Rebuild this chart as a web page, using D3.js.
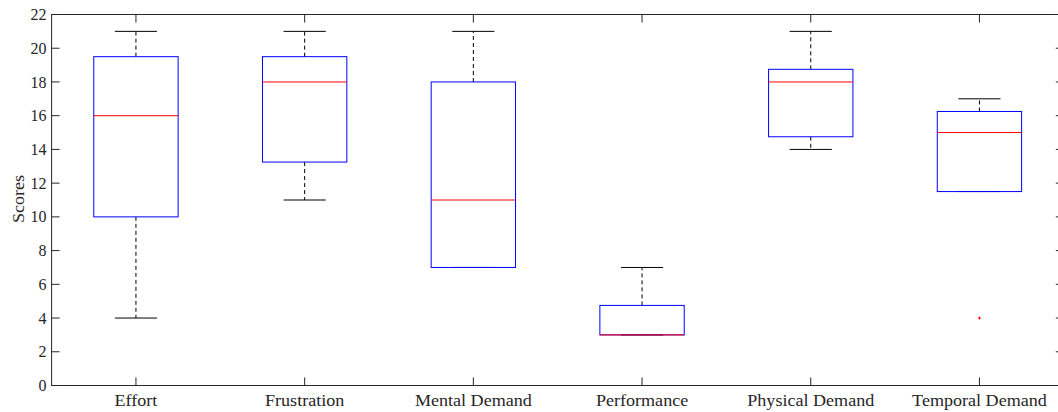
<!DOCTYPE html>
<html><head><meta charset="utf-8">
<script src="https://cdn.jsdelivr.net/npm/d3@7"></script>
<style>body{margin:0;background:#fff}svg{display:block}</style>
</head><body>
<script>
const categories = ["Effort","Frustration","Mental Demand","Performance","Physical Demand","Temporal Demand"];
const whiskerLow = [4, 11, 7, 3, 14, 11.5];
const q1 = [10, 13.25, 7, 3, 14.75, 11.5];
const medians = [16, 18, 11, 3, 18, 15];
const q3 = [19.5, 19.5, 18, 4.75, 18.75, 16.25];
const whiskerHigh = [21, 21, 21, 7, 21, 17];
const outliers = [{cat: 5, value: 4}];
const yTicks = [0,2,4,6,8,10,12,14,16,18,20,22];

const W = 1058, H = 412;
const m = {left: 51.6, top: 14.5, right: 1063.8, bottom: 385.5};
const svg = d3.select("body").append("svg").attr("width", W).attr("height", H);
const x = d3.scaleLinear().domain([0.5, 6.5]).range([m.left, m.right]);
const y = d3.scaleLinear().domain([0, 22]).range([m.bottom, m.top]);
const font = "'Liberation Serif', 'Times New Roman', serif";
const axisCol = "#262626";
const fs = 16, stretch = 1.13;

svg.append("rect").attr("x", m.left).attr("y", m.top).attr("width", m.right - m.left).attr("height", m.bottom - m.top)
  .attr("fill", "none").attr("stroke", axisCol).attr("stroke-width", 1);

const tl = 8;
yTicks.forEach(t => {
  svg.append("line").attr("x1", m.left).attr("x2", m.left + tl).attr("y1", y(t)).attr("y2", y(t)).attr("stroke", axisCol);
  svg.append("line").attr("x1", m.right).attr("x2", m.right - tl).attr("y1", y(t)).attr("y2", y(t)).attr("stroke", axisCol);
  svg.append("text").attr("x", m.left - 5).attr("y", y(t)).attr("dy", "0.35em").attr("text-anchor", "end")
    .attr("font-family", font).attr("font-size", fs).attr("fill", axisCol).text(t);
});
categories.forEach((c, i) => {
  const cx = x(i + 1);
  svg.append("line").attr("x1", cx).attr("x2", cx).attr("y1", m.bottom).attr("y2", m.bottom - tl).attr("stroke", axisCol);
  svg.append("line").attr("x1", cx).attr("x2", cx).attr("y1", m.top).attr("y2", m.top + tl).attr("stroke", axisCol);
  svg.append("text").attr("transform", `translate(${cx},406) scale(${stretch},1)`).attr("text-anchor", "middle")
    .attr("font-family", font).attr("font-size", fs).attr("fill", axisCol).text(c);
});
svg.append("text").attr("transform", `translate(24,${(m.top + m.bottom) / 2 - 1}) rotate(-90) scale(${stretch},1)`)
  .attr("text-anchor", "middle").attr("font-family", font).attr("font-size", fs).attr("fill", axisCol).text("Scores");

const bw = 0.25, cw = 0.125;
categories.forEach((c, i) => {
  const p = i + 1;
  const g = svg.append("g");
  g.append("line").attr("x1", x(p)).attr("x2", x(p)).attr("y1", y(q3[i])).attr("y2", y(whiskerHigh[i]))
    .attr("stroke", "#000").attr("stroke-dasharray", "4,3");
  g.append("line").attr("x1", x(p)).attr("x2", x(p)).attr("y1", y(q1[i])).attr("y2", y(whiskerLow[i]))
    .attr("stroke", "#000").attr("stroke-dasharray", "4,3");
  [whiskerHigh[i], whiskerLow[i]].forEach(v => {
    g.append("line").attr("x1", x(p - cw)).attr("x2", x(p + cw)).attr("y1", y(v)).attr("y2", y(v)).attr("stroke", "#000");
  });
  g.append("rect").attr("x", x(p - bw)).attr("y", y(q3[i])).attr("width", x(p + bw) - x(p - bw))
    .attr("height", y(q1[i]) - y(q3[i])).attr("fill", "none").attr("stroke", "#0000ff");
  g.append("line").attr("x1", x(p - bw)).attr("x2", x(p + bw)).attr("y1", y(medians[i])).attr("y2", y(medians[i]))
    .attr("stroke", "#ff0000");
});
outliers.forEach(o => {
  const cx = x(o.cat + 1), cy = y(o.value);
  svg.append("path").attr("d", `M${cx-1.5},${cy}H${cx+1.5}M${cx},${cy-1.5}V${cy+1.5}`).attr("stroke", "#ff0000").attr("stroke-width", 1);
});
</script>
</body></html>
